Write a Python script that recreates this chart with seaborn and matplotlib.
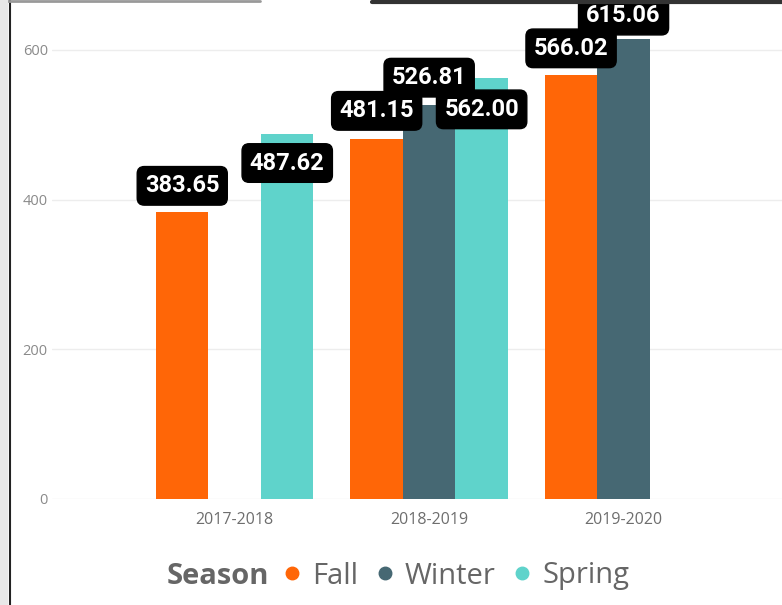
import pandas as pd
import matplotlib.pyplot as plt
from matplotlib.lines import Line2D
from matplotlib.patches import Rectangle
from matplotlib.offsetbox import HPacker
import seaborn as sns

years = ['2017-2018', '2018-2019', '2019-2020']
seasons = ['Fall', 'Winter', 'Spring']
fall = [383.65, 481.15, 566.02]
winter = [None, 526.81, 615.06]
spring = [487.62, 562.00, None]
season_colors = ['#FF6607', '#466873', '#5FD3CB']
# label offset from the bar top, in pixels (negative = above), per year
label_shift = {'Fall': [-26, -28, -27], 'Winter': [0, -27, -23], 'Spring': [29, 31, 0]}

rows = []
for s, vals in zip(seasons, [fall, winter, spring]):
    for y, v in zip(years, vals):
        if v is not None:
            rows.append({'Year': y, 'Season': s, 'Value': v})
df = pd.DataFrame(rows)

sns.set_style('white')
plt.rcParams['font.family'] = ['Open Sans', 'DejaVu Sans']

fig = plt.figure(figsize=(7.82, 6.05), dpi=100)
ax = fig.add_axes([52 / 782, 1 - 499 / 605, 730 / 782, 494 / 605])

sns.barplot(data=df, x='Year', y='Value', hue='Season', order=years,
            hue_order=seasons, palette=season_colors, width=0.81,
            saturation=1, linewidth=0, ax=ax, legend=False)

ax.set_ylim(0, 660)
ax.set_xlim(-0.94, 2.815)
ax.set_yticks([0, 200, 400, 600])
ax.yaxis.grid(True, color='#EDEDED', lw=1)
ax.set_axisbelow(True)
for sp in ax.spines.values():
    sp.set_visible(False)
ax.set_xlabel('')
ax.set_ylabel('')
ax.tick_params(axis='y', colors='#8A8A8A', labelsize=10.5, length=0, pad=3)
ax.tick_params(axis='x', colors='#6E6E6E', labelsize=11.5, length=0, pad=9)

# data labels in black rounded boxes
for s, container in zip(seasons, ax.containers):
    for bar in container:
        h = bar.get_height()
        if h != h or h == 0:
            continue
        xc = bar.get_x() + bar.get_width() / 2
        yi = int(round(xc))
        ax.annotate(f'{h:.2f}', (xc, h),
                    xytext=(0, -label_shift[s][yi] * 0.72), textcoords='offset points',
                    ha='center', va='center', color='white', fontsize=17,
                    fontweight='bold', family=['Roboto', 'DejaVu Sans'],
                    bbox=dict(boxstyle='round,pad=0.33,rounding_size=0.3',
                              fc='black', ec='black'), clip_on=False, zorder=5)

# legend: title inline with the entries
handles = [Line2D([], [], marker='o', ls='', color=c, markersize=9) for c in season_colors]
leg = fig.legend(handles, seasons, loc='center', bbox_to_anchor=(398 / 782, 1 - 576 / 605),
                 ncol=3, frameon=False, fontsize=21, handletextpad=0.1,
                 handlelength=1.2, columnspacing=0.3, title='Season')
leg.get_title().set_fontsize(21)
leg.get_title().set_fontweight('bold')
leg.get_title().set_color('#666666')
for t in leg.get_texts():
    t.set_color('#666666')
box = leg._legend_box
box._children = [HPacker(children=box._children, align='center', pad=0, sep=4)]

# frame pieces from the screenshot
fig.patches.append(Rectangle((0, 0), 8 / 782, 1, transform=fig.transFigure,
                             fc='#E8E8E8', ec='none', zorder=10))
fig.add_artist(Line2D([9.5 / 782, 9.5 / 782], [0, 1], color='#222222', lw=1.5))
fig.add_artist(Line2D([0, 260 / 782], [1 - 1 / 605, 1 - 1 / 605], color='#999999', lw=2))
fig.add_artist(Line2D([372 / 782, 1], [1 - 1.5 / 605, 1 - 1.5 / 605], color='#333333', lw=3))

fig.savefig('out.png', dpi=100)
